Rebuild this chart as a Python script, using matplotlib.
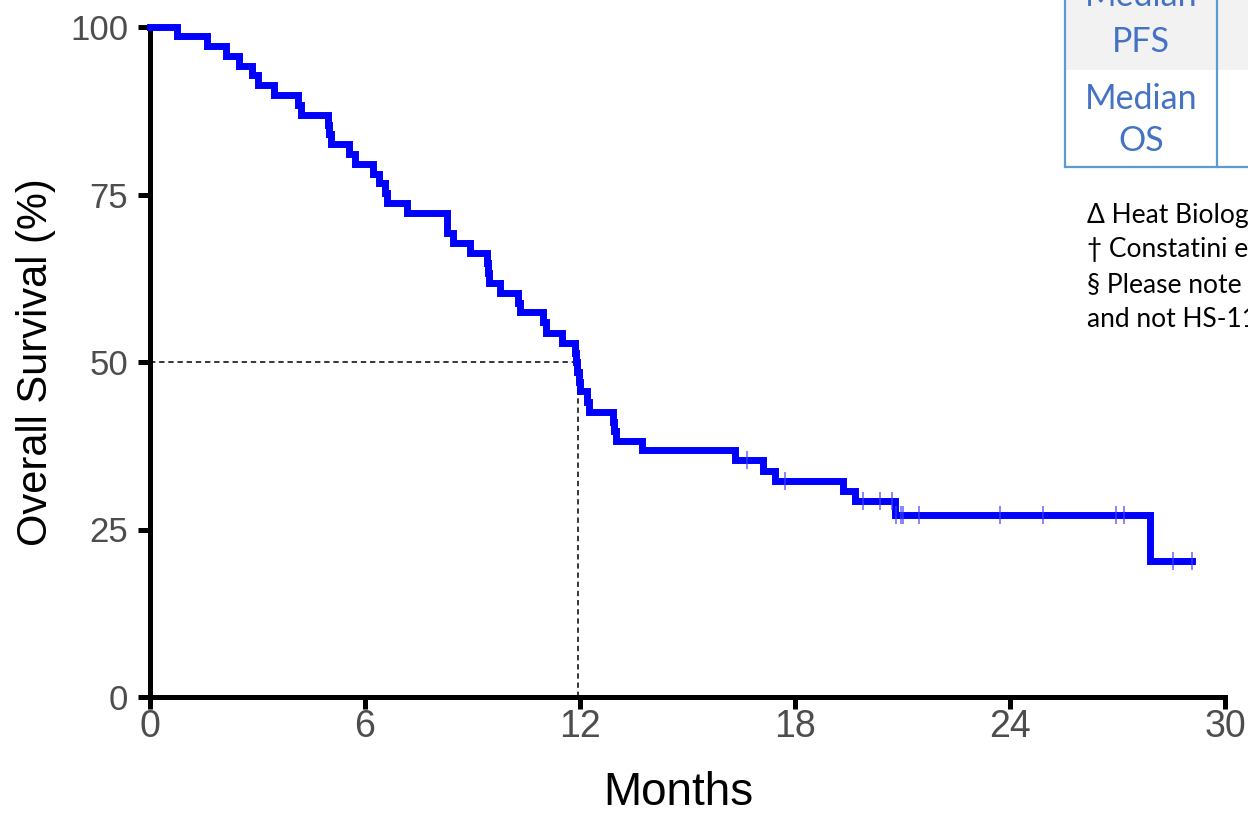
import matplotlib.pyplot as plt
from matplotlib.patches import Rectangle
import numpy as np

# Kaplan-Meier steps (months, % surviving after the step)
step_times = [0, 0.74, 1.58, 2.12, 2.49, 2.84, 3.00, 3.46, 4.14, 4.20,
              4.98, 5.00, 5.05, 5.54, 5.72, 6.23, 6.40, 6.56, 6.62, 7.18,
              8.28, 8.30, 8.45, 8.93, 9.40, 9.43, 9.46, 9.77, 10.28, 10.33,
              10.97, 11.05, 11.49, 11.86, 11.89, 11.92, 11.96, 12.00, 12.19, 12.24,
              12.93, 12.96, 13.00, 13.72, 16.33, 17.12, 17.44, 19.35, 19.68, 20.79,
              27.91]
step_surv = [100, 98.6, 97.1, 95.7, 94.2, 92.8, 91.3, 89.8, 88.4, 86.9,
             85.4, 84.0, 82.5, 81.0, 79.6, 78.1, 76.7, 75.2, 73.7, 72.2,
             70.7, 69.3, 67.8, 66.3, 64.8, 63.3, 61.8, 60.3, 58.8, 57.4,
             55.9, 54.4, 52.9, 51.4, 50.0, 48.5, 47.0, 45.6, 44.1, 42.6,
             41.1, 39.7, 38.2, 36.8, 35.3, 33.8, 32.3, 30.7, 29.2, 27.1,
             20.3]
last_followup = 29.07
censor_times = [16.65, 17.72, 19.89, 20.36, 20.72, 20.81, 20.95, 21.00, 21.46,
                23.72, 24.91, 26.95, 27.19, 28.54, 29.07]
median_os = 11.94

xticks = [0, 6, 12, 18, 24, 30]
yticks = [0, 25, 50, 75, 100]

footnotes = ['\u0394 Heat Biologics data', '\u2020 Constatini et al.',
             '\u00a7 Please note', 'and not HS-110']

W, H = 1248, 814
fig = plt.figure(figsize=(W / 100, H / 100), dpi=100)
ax = fig.add_axes([150 / W, 1 - 697 / H, 1075 / W, 670 / H])

t = step_times + [last_followup]
s = step_surv + [step_surv[-1]]
ax.step(t, s, where='post', color='#0000ff', lw=5, clip_on=False,
        solid_joinstyle='miter', zorder=4)

idx = np.searchsorted(step_times, censor_times, side='right') - 1
cens_y = np.array(step_surv)[idx]
ax.plot(censor_times, cens_y, ls='none', marker='|', ms=13, mew=1.1,
        color='#4040ff', alpha=0.8, clip_on=False, zorder=5)

ax.plot([0, median_os], [50, 50], color='black', lw=1.1, ls=(0, (3.5, 2.5)), zorder=3)
ax.plot([median_os, median_os], [0, 50], color='black', lw=1.1, ls=(0, (3.5, 2.5)), zorder=3)

ax.set_xlim(0, 30)
ax.set_ylim(0, 100)
ax.set_xticks(xticks)
ax.set_yticks(yticks)
for side in ['top', 'right']:
    ax.spines[side].set_visible(False)
for side in ['left', 'bottom']:
    ax.spines[side].set_linewidth(3.6)
ax.tick_params(direction='out', length=8.6, width=3.6, colors='black',
               labelcolor='#4d4d4d')
ax.tick_params(axis='x', labelsize=27, pad=0)
ax.tick_params(axis='y', labelsize=25, pad=7)
for lab in ax.get_xticklabels() + ax.get_yticklabels():
    lab.set_family('Liberation Sans')

ax.set_xlabel('Months', fontsize=33, family='Liberation Sans')
ax.xaxis.set_label_coords(0.491, -0.11)
ax.set_ylabel('Overall Survival (%)', fontsize=30, family='Liberation Sans', labelpad=10)

# partial table in the upper right corner of the slide
def fx(px):
    return px / W

def fy(py):
    return 1 - py / H

blue_line = '#5b9bd5'
fig.add_artist(Rectangle((fx(1065), fy(70)), fx(W - 1065), 70 / H,
                         transform=fig.transFigure, facecolor='#f2f2f2', edgecolor='none'))
fig.add_artist(plt.Line2D([fx(1065), fx(1065)], [fy(167), 1], transform=fig.transFigure,
                          color=blue_line, lw=1.6))
fig.add_artist(plt.Line2D([fx(1217), fx(1217)], [fy(167), 1], transform=fig.transFigure,
                          color=blue_line, lw=1.6))
fig.add_artist(plt.Line2D([fx(1065), 1], [fy(167), fy(167)], transform=fig.transFigure,
                          color=blue_line, lw=1.6))

cell_font = dict(family='Lato', fontsize=24.5, color='#4472c4', ha='center', va='center')
fig.text(fx(1141), fy(-4), 'Median', **cell_font)
fig.text(fx(1141), fy(42), 'PFS', **cell_font)
fig.text(fx(1141), fy(99), 'Median', **cell_font)
fig.text(fx(1141), fy(141), 'OS', **cell_font)

for i, line in enumerate(footnotes):
    fig.text(fx(1087), fy(215 + 35 * i), line, family='Lato', fontsize=19,
             color='black', ha='left', va='center')

fig.savefig('out.png', dpi=100)
